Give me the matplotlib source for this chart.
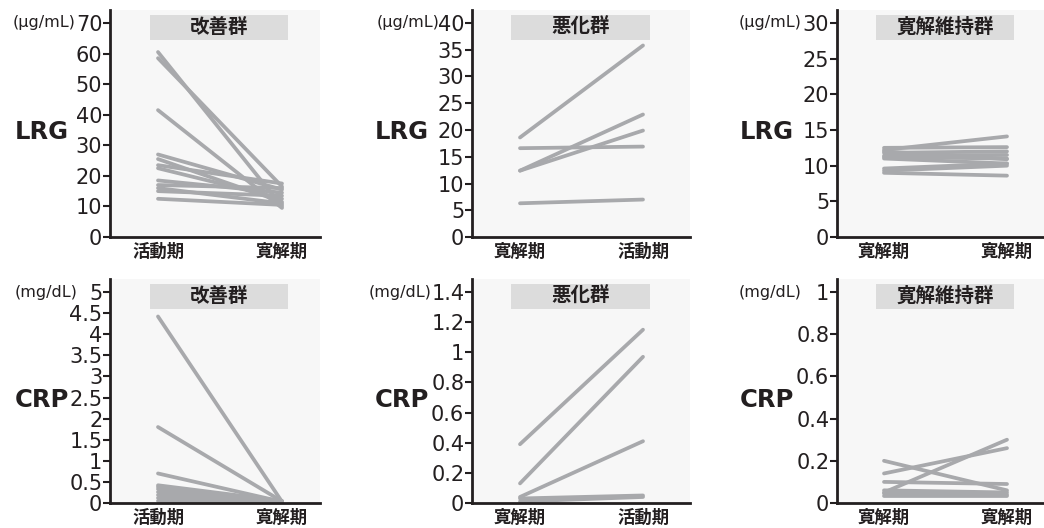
import numpy as np
import matplotlib
matplotlib.use("Agg")
import matplotlib.pyplot as plt
from matplotlib.patches import Rectangle
from matplotlib.ticker import FuncFormatter

plt.rcParams['font.family'] = ['DejaVu Sans', 'Noto Sans CJK JP']

# --- data ---
# LRG, improved group: active -> remission
lrg_imp_active = [60.5, 58.5, 41.5, 27.0, 25.5, 23.5, 22.5, 18.5, 17.0, 16.0, 15.0, 12.5]
lrg_imp_remis = [10.0, 16.5, 9.5, 15.5, 11.5, 17.5, 12.5, 14.5, 16.0, 11.0, 13.5, 10.5]
# LRG, worsened group: remission -> active
lrg_wor_remis = [18.6, 16.6, 12.4, 12.4, 6.3]
lrg_wor_active = [35.8, 16.9, 22.9, 19.9, 7.0]
# LRG, maintained remission group
lrg_keep_first = [12.2, 12.5, 11.8, 11.4, 11.2, 12.0, 11.0, 9.6, 9.0, 9.3]
lrg_keep_second = [14.1, 12.6, 12.0, 11.5, 11.0, 10.9, 10.3, 10.3, 8.6, 10.0]

# CRP, improved group
crp_imp_active = [4.42, 1.80, 0.70, 0.42, 0.38, 0.33, 0.26, 0.19, 0.12, 0.05]
crp_imp_remis = [0.03, 0.04, 0.03, 0.05, 0.02, 0.03, 0.04, 0.02, 0.03, 0.02]
# CRP, worsened group
crp_wor_remis = [0.39, 0.13, 0.04, 0.03, 0.01]
crp_wor_active = [1.15, 0.97, 0.41, 0.05, 0.04]
# CRP, maintained remission group
crp_keep_first = [0.20, 0.14, 0.05, 0.10, 0.06, 0.045, 0.035]
crp_keep_second = [0.06, 0.26, 0.30, 0.09, 0.05, 0.04, 0.035]

groups = ["改善群", "悪化群", "寛解維持群"]
xlabels = [["活動期", "寛解期"], ["寛解期", "活動期"], ["寛解期", "寛解期"]]
lrg_ticks = [list(range(0, 71, 10)), list(range(0, 41, 5)), list(range(0, 31, 5))]
crp_ticks = [[0, 0.5, 1, 1.5, 2, 2.5, 3, 3.5, 4, 4.5, 5],
             [0, 0.2, 0.4, 0.6, 0.8, 1.0, 1.2, 1.4],
             [0, 0.2, 0.4, 0.6, 0.8, 1.0]]

W, H = 1044, 528
LINE = '#a8a9ac'
FACE = '#f7f7f7'
BOX = '#dcdcdc'
TXT = '#231f20'

fig = plt.figure(figsize=(W / 100, H / 100), dpi=100)

# panel geometry in pixels: left, right of axes, line start/end x
cols = [(110, 320, 158, 282), (472, 690, 520, 643), (837, 1044, 884, 1007)]
rows = [(10, 237), (279, 503)]  # top, bottom
xpads = [4.5, 4.0]
boxes = [(150, 288), (511, 650), (876, 1014)]
unit_right = [[76, 439, 802], [77, 431, 801]]
name_x = [42, 402, 767]


def px(x, y):
    return x / W, 1 - y / H


def draw_panel(ax, col, row, first, second, ticks, title, labels, unit, name, name_y):
    l, r, x0, x1 = cols[col]
    top, bot = rows[row]
    f0 = (x0 - l) / (r - l)
    f1 = (x1 - l) / (r - l)
    span = 1 / (f1 - f0)
    ax.set_xlim(-f0 * span, (1 - f0) * span)
    ymax = ticks[-1] * (bot - top) / (bot - top - 13)
    ax.set_ylim(0, ymax)
    ax.set_facecolor(FACE)
    for a, b in zip(first, second):
        ax.plot([0, 1], [a, b], color=LINE, lw=2.7, solid_capstyle='round')
    for s in ['top', 'right']:
        ax.spines[s].set_visible(False)
    for s in ['left', 'bottom']:
        ax.spines[s].set_linewidth(2)
        ax.spines[s].set_color(TXT)
    ax.set_yticks(ticks)
    ax.yaxis.set_major_formatter(FuncFormatter(lambda v, p: f'{v:g}'))
    ax.tick_params(axis='y', length=5, width=1.5, pad=0.5, labelsize=15,
                   colors=TXT, direction='out')
    ax.set_xticks([0, 1])
    ax.set_xticklabels(labels, fontfamily='Noto Sans CJK JP', fontweight='bold',
                       fontsize=12.5, color=TXT)
    ax.tick_params(axis='x', length=0, pad=xpads[row])
    # title box
    bl, br = boxes[col]
    bx = (bl - l) / (r - l)
    bw = (br - bl) / (r - l)
    by = (bot - (top + 30)) / (bot - top)
    bh = 25 / (bot - top)
    ax.add_patch(Rectangle((bx, by), bw, bh, transform=ax.transAxes,
                           facecolor=BOX, edgecolor='none', zorder=3))
    ax.text(bx + bw / 2, by + bh / 2, title, transform=ax.transAxes, ha='center',
            va='center', fontfamily='Noto Sans CJK JP', fontweight='bold',
            fontsize=14, color=TXT, zorder=4)
    # unit label and row name
    ytop = bot - (bot - top - 13)
    fig.text(*px(unit_right[row][col], ytop), unit, ha='right', va='center',
             fontsize=11.5, color=TXT)
    fig.text(*px(name_x[col], name_y), name, ha='center', va='center',
             fontsize=17.5, fontweight='bold', color=TXT)


lrg_data = [(lrg_imp_active, lrg_imp_remis), (lrg_wor_remis, lrg_wor_active),
            (lrg_keep_first, lrg_keep_second)]
crp_data = [(crp_imp_active, crp_imp_remis), (crp_wor_remis, crp_wor_active),
            (crp_keep_first, crp_keep_second)]

for row, (data, ticks, unit, name, ny) in enumerate(
        [(lrg_data, lrg_ticks, '(μg/mL)', 'LRG', 132),
         (crp_data, crp_ticks, '(mg/dL)', 'CRP', 400)]):
    top, bot = rows[row]
    for col in range(3):
        l, r, _, _ = cols[col]
        ax = fig.add_axes([l / W, 1 - bot / H, (r - l) / W, (bot - top) / H])
        draw_panel(ax, col, row, data[col][0], data[col][1], ticks[col],
                   groups[col], xlabels[col], unit, name, ny)

fig.savefig("out.png", dpi=100)
